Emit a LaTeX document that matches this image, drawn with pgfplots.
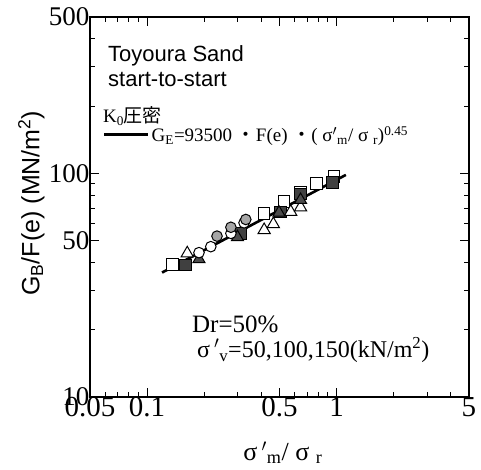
\documentclass[border=0pt]{standalone}
\usepackage{pgfplots}
\pgfplotsset{compat=1.18}
\usepackage{fontspec}
\setmainfont{Liberation Serif}
\newfontfamily\hv{Liberation Sans}
\newfontfamily\cjk{Noto Sans CJK JP}
\begin{document}
\begin{tikzpicture}
\begin{axis}[
  xmode=log, ymode=log,
  scale only axis, width=379pt, height=380pt,
  xmin=0.05, xmax=5, ymin=10, ymax=500,
  axis line style={line width=1.1pt},
  tick style={black, line width=0.9pt},
  tick align=inside,
  xtick={0.05,0.1,0.5,1,5},
  xticklabels={0.05,0.1,0.5,1,5},
  minor xtick={0.06,0.07,0.08,0.09,0.2,0.3,0.4,0.6,0.7,0.8,0.9,2,3,4},
  ytick={10,50,100,500},
  yticklabels={10,50,100,500},
  minor ytick={20,30,40,60,70,80,90,200,300,400},
  major tick length=9pt, minor tick length=5pt,
  xticklabel style={font=\fontsize{29}{30}\selectfont, yshift=3pt},
  yticklabel style={font=\fontsize{27}{28}\selectfont, xshift=3pt},
  xlabel={σ\,$'$\textsubscript{m}/ σ \textsubscript{r}},
  xlabel style={font=\fontsize{26}{28}\selectfont, at={(rel axis cs:0.509,-0.166)}, anchor=base},
  ylabel={\hv G\textsubscript{B}/F(e) (MN/m\textsuperscript{2})},
  ylabel style={font=\fontsize{25}{27}\selectfont, at={(rel axis cs:-0.155,0.51)}, anchor=center},
  legend cell align=left,
  legend style={draw=none, fill=none, at={(rel axis cs:0.034,0.690)}, anchor=west,
    font=\fontsize{19}{21}\selectfont, inner sep=0pt},
  legend image code/.code={\draw[line width=2.6pt] (0pt,0pt) -- (44pt,0pt);},
  clip=false,
]
\addplot[black, line width=2.6pt] coordinates {(0.12,36.0) (1.12,98.4)};
\addlegendentry{G\textsubscript{E}=93500 {\cjk ・}F(e) {\cjk ・}( σ$'$\textsubscript{m}/ σ \textsubscript{r})\textsuperscript{0.45}}
% open squares
\addplot[forget plot, only marks, mark=square*, mark size=5.8pt, draw=black, fill=white, line width=1pt] coordinates {
(0.1365,39.2) (0.4146,66.2) (0.528,75.0) (0.646,81.9) (0.785,90.2) (0.968,96.6)};
% dark squares
\addplot[forget plot, only marks, mark=square*, mark size=5.8pt, draw=black, fill=black!75, line width=1pt] coordinates {
(0.160,38.9) (0.312,53.9) (0.507,67.3) (0.646,80.7) (0.949,90.8)};
% open triangles
\addplot[forget plot, only marks, mark=triangle*, mark size=7pt, draw=black, fill=white, line width=1pt] coordinates {
(0.163,43.9) (0.415,55.8) (0.464,59.3) (0.573,67.3) (0.646,70.5)};
% dark triangles
\addplot[forget plot, only marks, mark=triangle*, mark size=7pt, draw=black, fill=black!70, line width=1pt] coordinates {
(0.188,41.3) (0.300,51.8) (0.497,66.7) (0.646,76.0)};
% open circles
\addplot[forget plot, only marks, mark=*, mark size=5.3pt, draw=black, fill=white, line width=1pt] coordinates {
(0.188,44.2) (0.217,47.0) (0.277,53.9) (0.325,60.1)};
% gray circles
\addplot[forget plot, only marks, mark=*, mark size=5.3pt, draw=black, fill=gray!70, line width=1pt] coordinates {
(0.234,52.4) (0.277,57.4) (0.332,62.2)};
\node[anchor=base west, font=\hv\fontsize{22}{24}\selectfont, inner sep=0pt] at (rel axis cs:0.0475,0.882) {Toyoura Sand};
\node[anchor=base west, font=\hv\fontsize{22}{24}\selectfont, inner sep=0pt] at (rel axis cs:0.0475,0.816) {start-to-start};
\node[anchor=west, font=\fontsize{19}{21}\selectfont, inner sep=0pt] at (rel axis cs:0.034,0.740) {K\textsubscript{0}{\cjk 圧密}};
\node[anchor=north west, align=left, font=\fontsize{25}{25}\selectfont, inner sep=0pt] at (rel axis cs:0.269,0.213)
  {Dr=50\%\\\hspace*{5pt}{\fontsize{24}{25}\selectfont σ\,$'$\textsubscript{v}=50,100,150(kN/m\textsuperscript{2})}};
\end{axis}
\pgfresetboundingbox
\useasboundingbox ([shift={(-90pt,-72pt)}]current axis.south west) rectangle ([shift={(12pt,17pt)}]current axis.north east);
\end{tikzpicture}
\end{document}
